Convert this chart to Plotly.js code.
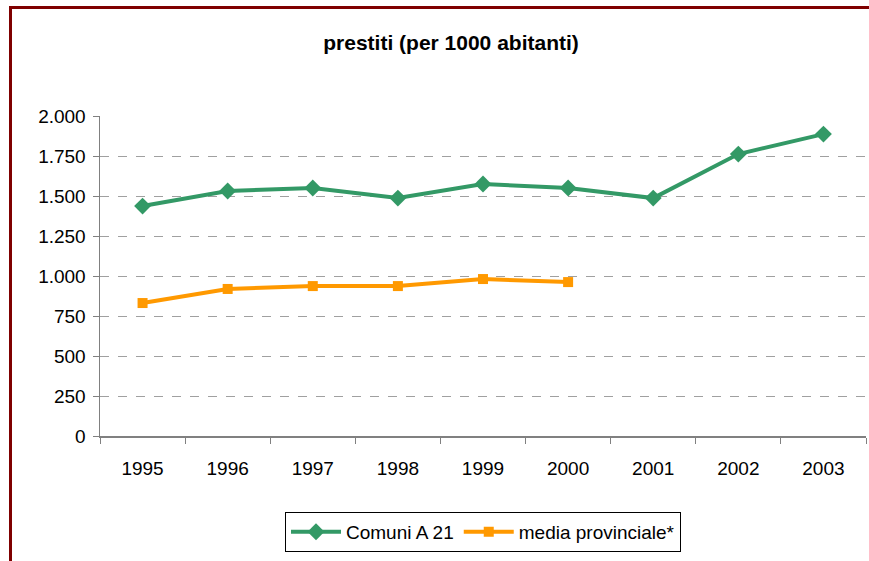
<!DOCTYPE html>
<html>
<head>
<meta charset="utf-8">
<script src="https://cdn.plot.ly/plotly-3.0.1.min.js"></script>
<style>
html,body{margin:0;padding:0;background:#fff;}
#frame{position:absolute;left:9px;top:6px;width:860px;height:555px;border-top:3px solid #7f0000;border-left:3px solid #7f0000;box-sizing:border-box;}
#chart{position:absolute;left:0;top:0;width:869px;height:561px;}
</style>
</head>
<body>
<div id="chart"></div>
<div id="frame"></div>
<script>
const years = ["1995","1996","1997","1998","1999","2000","2001","2002","2003"];
const comuniA21 = [1437, 1531, 1550, 1487, 1575, 1550, 1487, 1762, 1887];
const yearsProv = ["1995","1996","1997","1998","1999","2000"];
const mediaProvinciale = [831, 919, 937, 937, 981, 962];
const yTicks = [0,250,500,750,1000,1250,1500,1750,2000];

const traces = [
  {x: years, y: comuniA21, name: "Comuni A 21", type: "scatter", mode: "lines+markers",
   line: {color: "#339966", width: 4}, marker: {symbol: "diamond", size: 13, color: "#339966"}},
  {x: yearsProv, y: mediaProvinciale, name: "media provinciale*", type: "scatter", mode: "lines+markers",
   line: {color: "#ff9900", width: 4}, marker: {symbol: "square", size: 10, color: "#ff9900"}}
];

const layout = {
  width: 869, height: 561,
  margin: {l: 100, r: 3, t: 116, b: 125},
  paper_bgcolor: "#fff", plot_bgcolor: "#fff",
  separators: ",.",
  font: {family: "Liberation Sans, Arial, sans-serif", size: 19, color: "#000"},
  title: {text: "<b>prestiti (per 1000 abitanti)</b>", x: 0.519, xanchor: "center", y: 1 - 43/561, yanchor: "middle",
          font: {size: 21, color: "#000"}},
  xaxis: {type: "category", categoryorder: "array", categoryarray: years,
          range: [-0.5, 8.5], tickson: "boundaries", ticks: "outside", ticklen: 6, tickcolor: "#808080",
          showline: true, linecolor: "#808080", linewidth: 1.5, showgrid: false, zeroline: false,
          ticklabelstandoff: 15, tickfont: {size: 19}},
  yaxis: {range: [0, 2000], tickvals: yTicks, tickformat: ",.0f", ticks: "outside", ticklen: 6, tickcolor: "#808080",
          showline: true, linecolor: "#808080", linewidth: 1.5,
          showgrid: true, gridcolor: "#a0a0a0", griddash: "dash", gridwidth: 1, zeroline: false,
          ticklabelstandoff: 3, tickfont: {size: 19}},
  showlegend: true,
  legend: {orientation: "h", x: 0.5, xanchor: "center", y: -0.237, yanchor: "top",
           bordercolor: "#000", borderwidth: 1, bgcolor: "#fff", font: {size: 19}, itemwidth: 50}
};

Plotly.newPlot("chart", traces, layout, {displayModeBar: false, staticPlot: true});
</script>
</body>
</html>
